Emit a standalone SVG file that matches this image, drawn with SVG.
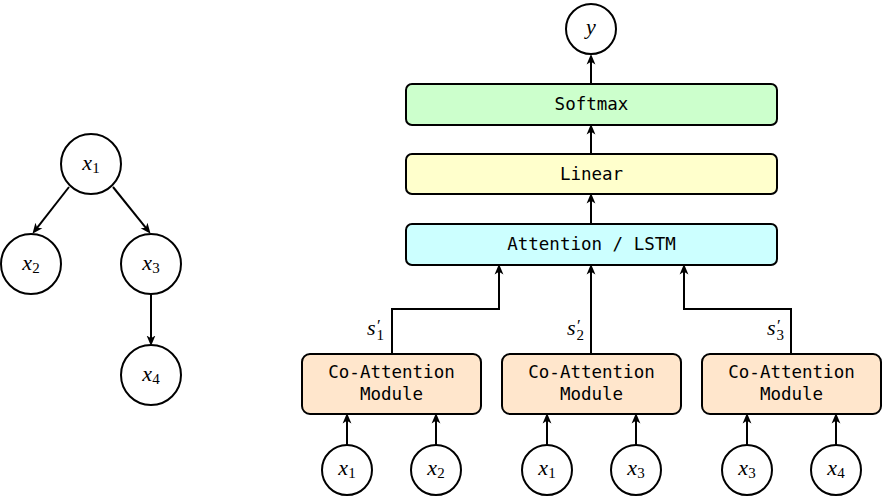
<svg xmlns="http://www.w3.org/2000/svg" width="882" height="498" viewBox="0 0 882 498">
<style>
.n{fill:#fff;stroke:#000;stroke-width:2}
.b{stroke:#000;stroke-width:2}
.e{fill:none;stroke:#000;stroke-width:2;marker-end:url(#ah)}
.m{font-family:"Liberation Serif","DejaVu Serif",serif;font-style:italic;font-size:22px;fill:#000}
.s{font-size:15px;font-style:normal}
.p{font-size:17px;font-style:normal}
.t{font-family:"DejaVu Sans Mono","Liberation Mono",monospace;font-size:17.5px;fill:#000;text-anchor:middle}
</style>
<defs>
<marker id="ah" markerUnits="userSpaceOnUse" markerWidth="11" markerHeight="11" viewBox="0 0 10 10" refX="5" refY="5" orient="auto">
<path d="M0,1 L9.5,5 L0,9 L2.5,5 z" fill="#000"/>
</marker>
</defs>
<rect width="882" height="498" fill="#fff"/>
<g id="connectors">
<path class="e" d="M69,187 L35.5,229.8"/>
<path class="e" d="M113,187 L147.5,229.9"/>
<path class="e" d="M151,294 L151,341"/>
<path class="e" d="M591,84 L591,59"/>
<path class="e" d="M591,154 L591,129"/>
<path class="e" d="M591,224 L591,198"/>
<path class="e" d="M392,354 L392,309 L499,309 L499,269"/>
<path class="e" d="M591,354 L591,269"/>
<path class="e" d="M791,354 L791,309 L684,309 L684,269"/>
<path class="e" d="M347,445 L347,418"/>
<path class="e" d="M436,445 L436,418"/>
<path class="e" d="M547,445 L547,418"/>
<path class="e" d="M636,445 L636,418"/>
<path class="e" d="M747,445 L747,418"/>
<path class="e" d="M836,445 L836,418"/>
</g>
<g id="t_x1"><circle class="n" cx="91" cy="164" r="30"/><text class="m" x="91" y="170" text-anchor="middle">x<tspan class="s" dy="3">1</tspan></text></g>
<g id="t_x2"><circle class="n" cx="31" cy="264" r="30"/><text class="m" x="31" y="270" text-anchor="middle">x<tspan class="s" dy="3">2</tspan></text></g>
<g id="t_x3"><circle class="n" cx="151" cy="264" r="30"/><text class="m" x="151" y="270" text-anchor="middle">x<tspan class="s" dy="3">3</tspan></text></g>
<g id="t_x4"><circle class="n" cx="151" cy="375" r="30"/><text class="m" x="151" y="381" text-anchor="middle">x<tspan class="s" dy="3">4</tspan></text></g>
<g id="y"><circle class="n" cx="591" cy="29" r="25"/><text class="m" x="591" y="34" text-anchor="middle">y</text></g>
<g id="softmax"><rect class="b" x="406" y="84" width="371" height="41" rx="6" fill="#ccffcc"/><text class="t" x="591.5" y="110">Softmax</text></g>
<g id="linear"><rect class="b" x="406" y="154" width="371" height="40" rx="6" fill="#ffffcc"/><text class="t" x="591.5" y="180">Linear</text></g>
<g id="attention"><rect class="b" x="406" y="224" width="371" height="41" rx="6" fill="#ccffff"/><text class="t" x="591.5" y="250">Attention / LSTM</text></g>
<g id="coatt1"><rect class="b" x="302" y="354" width="179" height="60" rx="8" fill="#ffe6cc"/><text class="t" x="391.5" y="378">Co-Attention</text><text class="t" x="391.5" y="400">Module</text></g>
<g id="coatt2"><rect class="b" x="502" y="354" width="179" height="60" rx="8" fill="#ffe6cc"/><text class="t" x="591.5" y="378">Co-Attention</text><text class="t" x="591.5" y="400">Module</text></g>
<g id="coatt3"><rect class="b" x="702" y="354" width="179" height="60" rx="8" fill="#ffe6cc"/><text class="t" x="791.5" y="378">Co-Attention</text><text class="t" x="791.5" y="400">Module</text></g>
<g id="b_x1a"><circle class="n" cx="347" cy="470" r="25"/><text class="m" x="347" y="475" text-anchor="middle">x<tspan class="s" dy="3">1</tspan></text></g>
<g id="b_x2"><circle class="n" cx="436" cy="470" r="25"/><text class="m" x="436" y="475" text-anchor="middle">x<tspan class="s" dy="3">2</tspan></text></g>
<g id="b_x1b"><circle class="n" cx="547" cy="470" r="25"/><text class="m" x="547" y="475" text-anchor="middle">x<tspan class="s" dy="3">1</tspan></text></g>
<g id="b_x3a"><circle class="n" cx="636" cy="470" r="25"/><text class="m" x="636" y="475" text-anchor="middle">x<tspan class="s" dy="3">3</tspan></text></g>
<g id="b_x3b"><circle class="n" cx="747" cy="470" r="25"/><text class="m" x="747" y="475" text-anchor="middle">x<tspan class="s" dy="3">3</tspan></text></g>
<g id="b_x4"><circle class="n" cx="836" cy="470" r="25"/><text class="m" x="836" y="475" text-anchor="middle">x<tspan class="s" dy="3">4</tspan></text></g>
<g id="labels">
<text class="m" x="367" y="335">s<tspan class="p" x="377" y="331">′</tspan><tspan class="s" x="376.5" y="340">1</tspan></text>
<text class="m" x="567" y="335">s<tspan class="p" x="577" y="331">′</tspan><tspan class="s" x="576.5" y="340">2</tspan></text>
<text class="m" x="767" y="335">s<tspan class="p" x="777" y="331">′</tspan><tspan class="s" x="776.5" y="340">3</tspan></text>
</g>
</svg>
